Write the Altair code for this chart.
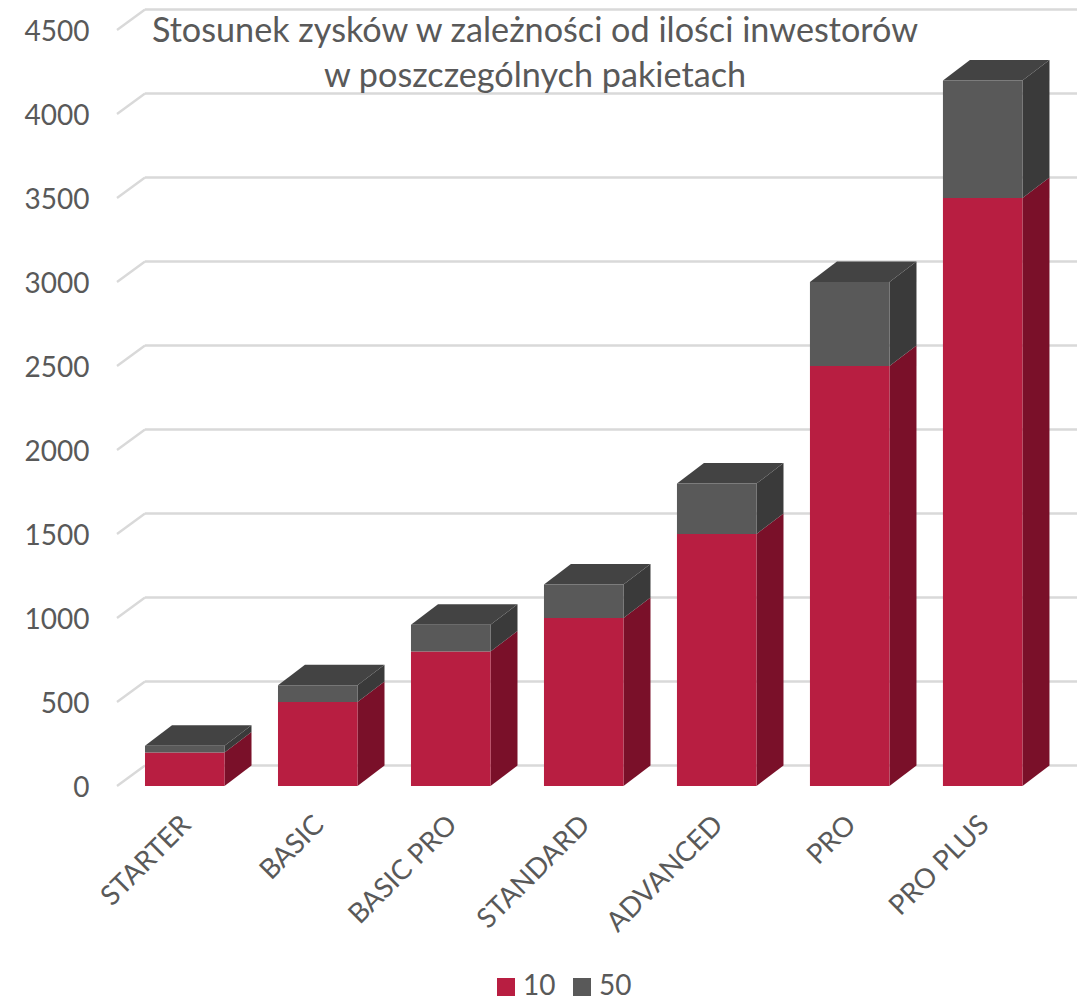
import altair as alt
import pandas as pd

categories = ["STARTER", "BASIC", "BASIC PRO", "STANDARD", "ADVANCED", "PRO", "PRO PLUS"]
series_10 = [200, 500, 800, 1000, 1500, 2500, 3500]
series_50 = [40, 100, 160, 200, 300, 500, 700]
grid_ticks = [0, 500, 1000, 1500, 2000, 2500, 3000, 3500, 4000, 4500]
title_lines = ["Stosunek zysków w zależności od ilości inwestorów", "w poszczególnych pakietach"]

FONT = "Lato"
TXT = "#595959"
BAR_W = 0.598      # front-face width, in category steps
DX = 0.203         # depth of the 3-D box, in category steps
DY = 122           # depth of the 3-D box, in value units
X_MIN, X_MAX = -0.2105, 7.008

front, side, top = [], [], []
for i, cat in enumerate(categories):
    a = series_10[i]
    b = a + series_50[i]
    l, r = float(i), i + BAR_W
    front += [
        dict(cat=cat, s="10", l=l, r=r, y0=0, y1=a),
        dict(cat=cat, s="50", l=l, r=r, y0=a, y1=b),
    ]
    for s, y0, y1 in (("10", 0, a), ("50", a, b)):
        side += [
            dict(cat=cat, s=s, x=r, y0=y0, y1=y1),
            dict(cat=cat, s=s, x=r + DX, y0=y0 + DY, y1=y1 + DY),
        ]
    top += [
        dict(cat=cat, y=b, l=l, r=r),
        dict(cat=cat, y=b + DY, l=l + DX, r=r + DX),
    ]
front = pd.DataFrame(front)
side = pd.DataFrame(side)
top = pd.DataFrame(top)
grid = pd.DataFrame({"v": grid_ticks})
grid["v2"] = grid["v"] + DY
grid["xa"] = X_MIN
grid["xb"] = 0.0
grid["xc"] = X_MAX
labels = pd.DataFrame({"cat": categories, "x": [i + BAR_W / 2 for i in range(len(categories))]})

xs = alt.Scale(domain=[X_MIN, X_MAX], nice=False, zero=False)
ys = alt.Scale(domain=[0, 4500], nice=False)
y_axis = alt.Axis(
    values=grid_ticks, title=None, grid=False, domain=False, ticks=False, format="d",
    labelPadding=28, labelFontSize=28, labelColor=TXT, labelFont=FONT, labelFlush=False, labelOffset=2,
)
X = lambda f: alt.X(f, type="quantitative", scale=xs, axis=None)
Y = lambda f: alt.Y(f, type="quantitative", scale=ys, stack=None, axis=y_axis)

GRID = "#d9d9d9"
slant = alt.Chart(grid).mark_rule(color=GRID, strokeWidth=2.4).encode(
    x=X("xa"), x2="xb", y=Y("v"), y2="v2")
flat = alt.Chart(grid).mark_rule(color=GRID, strokeWidth=2.4).encode(
    x=X("xb"), x2="xc", y=Y("v2"))

def side_layer(s, color):
    return alt.Chart(side[side.s == s]).mark_area(color=color, orient="vertical", opacity=1).encode(
        x=X("x"), y=Y("y0"), y2="y1", detail="cat:N")

sides = [side_layer("10", "#7a1029"), side_layer("50", "#3a3a3a")]
tops = alt.Chart(top).mark_area(color="#434343", orient="horizontal", opacity=1).encode(
    y=Y("y"), x=X("l"), x2="r", detail="cat:N")

fronts = alt.Chart(front).mark_rect(opacity=1).encode(
    x=X("l"), x2="r",
    y=Y("y0"),
    y2="y1",
    color=alt.Color("s:N", scale=alt.Scale(domain=["10", "50"], range=["#b81e41", "#595959"]),
                    legend=alt.Legend(
                        title=None, orient="none", legendX=375, legendY=943, direction="horizontal",
                        symbolType="square", symbolSize=324, symbolStrokeWidth=0, symbolOpacity=1,
                        labelFontSize=28, labelFont=FONT, labelColor=TXT, columnPadding=12, labelOffset=3,
                    )),
)

xlabels = alt.Chart(labels).mark_text(
    angle=315, align="right", baseline="middle", fontSize=27.5, font=FONT, color=TXT, dx=3
).encode(x=X("x"), y=alt.value(793), text="cat:N")

chart = alt.layer(slant, flat, *sides, tops, fronts, xlabels).properties(
    width=960, height=756,
    padding={"left": 109, "top": 22, "right": 1, "bottom": 212},
    autosize=alt.AutoSizeParams(type="none"),
    background="white",
    title=alt.TitleParams(
        text=title_lines, anchor="middle", dx=-62, offset=-86, fontSize=34.2, font=FONT,
        fontWeight="normal", color=TXT, lineHeight=45,
    ),
).configure_view(stroke=None)

chart.save("out.html", embed_options={"renderer": "svg", "actions": False})
